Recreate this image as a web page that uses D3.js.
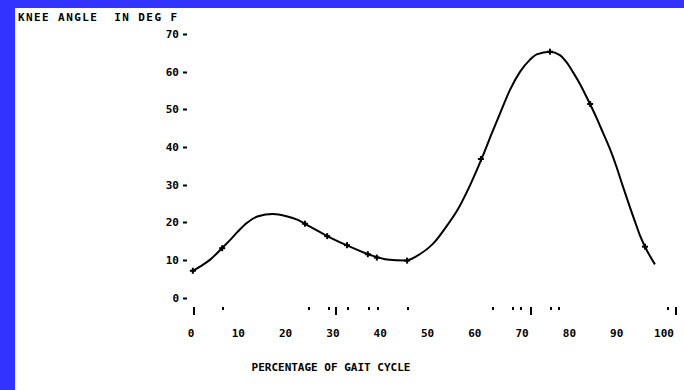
<!DOCTYPE html>
<html lang="en">
<head>
<meta charset="UTF-8">
<title>Knee angle over gait cycle</title>
<script src="https://d3js.org/d3.v7.min.js"></script>
<style>
  html, body { margin: 0; padding: 0; background: #fff; }
  text { font-family: "DejaVu Sans Mono", monospace; font-weight: bold; fill: #000; }
</style>
</head>
<body>
<div id="chart"></div>
<script>
    // curve: percentage of gait cycle -> angle
    const pct   = [0.4, 2.1, 4.2, 6.7, 8.5, 10.1, 12.0, 14.4, 17.5, 20.4, 22.8, 25.4, 28.9, 33.1, 38.1, 41.6, 45.5, 47.9, 51.4, 54.5, 56.7, 59.2, 61.9, 63.8, 65.9, 67.7, 69.8, 71.9, 73.3, 76.1, 78.2, 79.6, 81.0, 82.5, 84.1, 86.0, 87.3, 88.8, 90.2, 91.5, 93.0, 94.1, 95.1, 96.6, 98.3];
    const angle = [6.9, 8.2, 10.0, 13.0, 15.3, 17.5, 19.8, 21.6, 22.2, 21.6, 20.6, 18.8, 16.4, 13.9, 11.3, 10.1, 9.8, 11.0, 14.3, 19.4, 23.6, 29.8, 37.6, 43.6, 50.0, 55.3, 60.0, 63.2, 64.6, 65.3, 64.4, 62.5, 59.8, 56.6, 52.6, 47.6, 43.8, 39.4, 34.6, 29.6, 24.0, 20.1, 16.6, 12.5, 8.8];

    // cross markers on the curve
    const markPct   = [0.6, 6.8, 24.3, 29.0, 33.2, 37.6, 39.5, 45.9, 61.5, 76.1, 84.6, 96.2];
    const markAngle = [7.1, 13.1, 19.6, 16.3, 13.9, 11.5, 10.6, 9.8, 36.8, 65.3, 51.4, 13.5];

    // small marks under the plot
    const rugPct  = [0.6, 6.8, 25.0, 29.2, 30.7, 33.2, 37.6, 39.5, 45.9, 63.8, 68.0, 69.8, 71.9, 76.1, 77.8, 100.8, 102.5];
    const rugTall = [1, 0, 0, 0, 1, 0, 0, 0, 0, 0, 0, 0, 1, 0, 0, 0, 1];

    const xTicks = [0, 10, 20, 30, 40, 50, 60, 70, 80, 90, 100];
    const yTicks = [0, 10, 20, 30, 40, 50, 60, 70];

    const W = 684, H = 390;

    const svg = d3.select("#chart")
        .append("svg")
        .attr("width", W)
        .attr("height", H);

    // blue frame on top and left
    svg.append("rect").attr("x", 0).attr("y", 0).attr("width", W).attr("height", 8).attr("fill", "#3333ff");
    svg.append("rect").attr("x", 0).attr("y", 0).attr("width", 15).attr("height", H).attr("fill", "#3333ff");

    const x = d3.scaleLinear().domain([0, 100]).range([190, 663]);
    const y = d3.scaleLinear().domain([0, 70]).range([297.5, 34]);

    svg.append("text")
        .attr("x", 18)
        .attr("y", 21)
        .style("font-size", "11px")
        .style("letter-spacing", "1.4px")
        .style("white-space", "pre")
        .text("KNEE ANGLE  IN DEG F");

    // y axis: ticks and labels, no line
    const yAxis = svg.append("g");
    yAxis.selectAll("line")
        .data(yTicks)
        .enter()
        .append("line")
        .attr("x1", 183)
        .attr("x2", 187)
        .attr("y1", d => Math.round(y(d)) + 0.5)
        .attr("y2", d => Math.round(y(d)) + 0.5)
        .attr("stroke", "#000")
        .attr("stroke-width", 2);
    yAxis.selectAll("text")
        .data(yTicks)
        .enter()
        .append("text")
        .attr("x", 179)
        .attr("y", d => y(d) + 4)
        .attr("text-anchor", "end")
        .style("font-size", "11px")
        .text(d => d);

    // x axis labels
    svg.append("g").selectAll("text")
        .data(xTicks)
        .enter()
        .append("text")
        .attr("x", d => x(d) + 1)
        .attr("y", 337)
        .attr("text-anchor", "middle")
        .style("font-size", "11px")
        .text(d => d);

    svg.append("text")
        .attr("x", 331)
        .attr("y", 371)
        .attr("text-anchor", "middle")
        .style("font-size", "11px")
        .text("PERCENTAGE OF GAIT CYCLE");

    // rug marks
    svg.append("g").selectAll("rect")
        .data(rugPct)
        .enter()
        .append("rect")
        .attr("x", d => Math.round(x(d)))
        .attr("y", 307)
        .attr("width", 2)
        .attr("height", (d, i) => rugTall[i] ? 8 : 3)
        .attr("fill", "#000");

    const points = pct.map((p, i) => [p, angle[i]]);

    svg.append("path")
        .datum(points)
        .attr("fill", "none")
        .attr("stroke", "#000")
        .attr("stroke-width", 2)
        .attr("d", d3.line()
            .x(d => x(d[0]))
            .y(d => y(d[1]))
            .curve(d3.curveMonotoneX));

    // cross markers
    const marks = svg.append("g").selectAll("g")
        .data(markPct.map((p, i) => [p, markAngle[i]]))
        .enter()
        .append("g")
        .attr("transform", d => `translate(${x(d[0])},${y(d[1])})`);
    marks.append("line").attr("x1", -3).attr("x2", 3).attr("y1", 0).attr("y2", 0)
        .attr("stroke", "#000").attr("stroke-width", 2);
    marks.append("line").attr("x1", 0).attr("x2", 0).attr("y1", -3).attr("y2", 3)
        .attr("stroke", "#000").attr("stroke-width", 2);
</script>
</body>
</html>
